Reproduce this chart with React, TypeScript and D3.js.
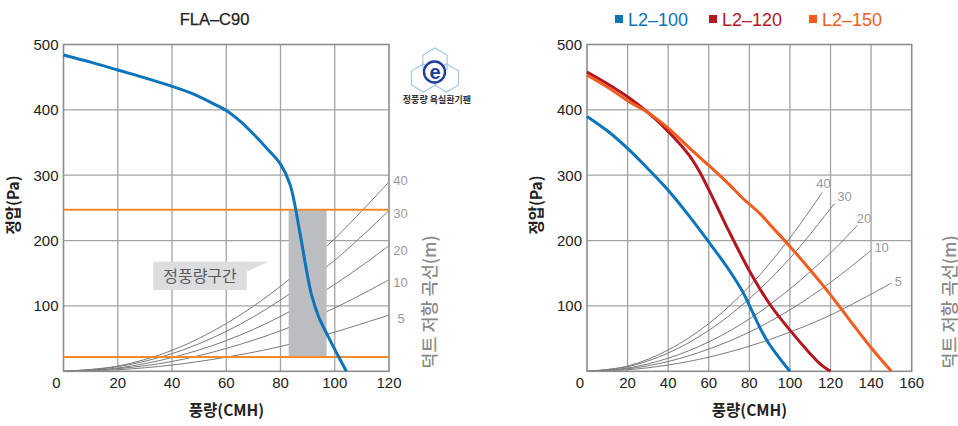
import React from 'react';
import * as d3 from 'd3';

const W = 958;
const H = 426;

// ---------- shared ----------
const yTicks = [100, 200, 300, 400, 500];
const ductNames = ['40', '30', '20', '10', '5'];

// ---------- left chart (FLA-C90) ----------
const leftTitle = 'FLA–C90';
const leftXTicks = [0, 20, 40, 60, 80, 100, 120];
const fanQ = [0, 10, 20, 30, 40, 48, 55, 60, 65, 70, 75, 80, 83.5, 87.2, 89.7, 91.5, 94, 97, 100.7, 104.3];
const fanP = [484, 473, 461, 449, 436, 424, 410, 399, 383, 363, 341, 317, 286, 211, 152, 116, 84, 58, 28, 0];
const bandQ = [83, 97];
const limitP = [247, 22];
const leftDuctQ = [0, 20, 40, 60, 80, 100, 120];
const leftDuct40 = [0, 8, 32, 73, 130, 203, 290];
const leftDuct30 = [0, 7, 27, 61, 109, 170, 246];
const leftDuct20 = [0, 5, 21, 47, 84, 133, 192];
const leftDuct10 = [0, 4, 15, 35, 62, 97, 140];
const leftDuct5 = [0, 2.4, 9.6, 21.6, 38, 60, 86];
const calloutText = '정풍량구간';
const logoText = '정풍량 욕실환기팬';

// ---------- right chart (L2 series) ----------
const rightXTicks = [0, 20, 40, 60, 80, 100, 120, 140, 160];
const seriesNames = ['L2–100', 'L2–120', 'L2–150'];
const l2100Q = [0, 10, 20, 30, 40, 50, 60, 70, 77, 80.3, 88.5, 100];
const l2100P = [390, 368, 341, 310, 277, 239, 198, 155, 120, 99, 48, 0];
const l2120Q = [0, 10, 20, 30, 40, 50, 55, 60, 65, 70, 80, 90, 100, 110, 115, 120];
const l2120P = [458, 440, 420, 396, 367, 332, 308, 278, 246, 214, 154, 103, 63, 27, 11, 0];
const l2150Q = [0, 10, 20, 30, 40, 50, 60, 70, 77, 85, 90, 100, 110, 120, 130, 140, 150];
const l2150P = [453, 435, 414, 396, 372, 343, 315, 286, 264, 242, 225, 191, 155, 117, 76, 36, 0];
const rightDuct40Q = [0, 20, 40, 60, 80, 100, 116];
const rightDuct40P = [0, 8, 32.6, 73, 130, 204, 274];
const rightDuct30Q = [0, 20, 40, 60, 80, 100, 122];
const rightDuct30P = [0, 7, 28, 62.5, 111, 173, 257];
const rightDuct20Q = [0, 20, 40, 60, 80, 100, 120, 133.5];
const rightDuct20P = [0, 5, 20, 45, 80, 126, 181, 224];
const rightDuct10Q = [0, 20, 40, 60, 80, 100, 120, 140];
const rightDuct10P = [0, 3.8, 15, 34, 60, 94, 136, 185];
const rightDuct5Q = [0, 20, 40, 60, 80, 100, 120, 140, 150];
const rightDuct5P = [0, 2.4, 9.6, 21.6, 38.4, 60, 86, 118, 135];

const xTitle = '풍량(CMH)';
const yTitle = '정압(Pa)';
const y2Title = '덕트 저항 곡선(m)';

// ---------- styles ----------
const LATIN = '"Liberation Sans", Arial, Helvetica, sans-serif';
const KR = '"Noto Sans CJK KR", "Noto Sans", sans-serif';
const GRID = '#a3a3a3';
const FRAME = '#8c8c8c';
const DUCT = '#7a7a7a';
const BLUE = '#0b74ba';
const RED = '#b3161e';
const ORANGE = '#f05d1e';
const LIMIT = '#ef8a2d';

const zip = (xs: number[], ys: number[]) => xs.map((x, i) => [x, ys[i]] as [number, number]);

type Plot = { x: d3.ScaleLinear<number, number>; y: d3.ScaleLinear<number, number> };

function Frame({ x, y, xTicks }: Plot & { xTicks: number[] }) {
  const [x0, x1] = x.range();
  const [y0, y1] = y.range();
  return (
    <g>
      {xTicks.slice(1, -1).map((t) => (
        <line key={'vx' + t} x1={x(t)} x2={x(t)} y1={y0} y2={y1} stroke={GRID} strokeWidth={1.3} />
      ))}
      {yTicks.slice(0, -1).map((t) => (
        <line key={'hy' + t} x1={x0} x2={x1} y1={y(t)} y2={y(t)} stroke={GRID} strokeWidth={1.3} />
      ))}
    </g>
  );
}

function Border({ x, y }: Plot) {
  const [x0, x1] = x.range();
  const [y0, y1] = y.range();
  return <rect x={x0} y={y1} width={x1 - x0} height={y0 - y1} fill="none" stroke={FRAME} strokeWidth={1.6} />;
}

function Axes({ x, y, xTicks, cx }: Plot & { xTicks: number[]; cx: number }) {
  const [x0] = x.range();
  const [y0] = y.range();
  return (
    <g fontFamily={LATIN} fill="#222">
      {yTicks.map((t) => (
        <text key={'yl' + t} x={x0 - 5} y={y(t)} dy="0.36em" textAnchor="end" fontSize={15}>
          {t}
        </text>
      ))}
      {xTicks.map((t) => (
        <text
          key={'xl' + t}
          x={t === 0 ? x(t) - 3 : x(t)}
          y={y0 + 17}
          textAnchor={t === 0 ? 'end' : 'middle'}
          fontSize={15}
        >
          {t}
        </text>
      ))}
      <text x={cx} y={416} textAnchor="middle" fontFamily={KR} fontWeight={700} fontSize={15.5}>
        {xTitle}
      </text>
    </g>
  );
}

function YTitle({ cx }: { cx: number }) {
  return (
    <text
      transform={`translate(${cx},205) rotate(-90)`}
      textAnchor="middle"
      dy="0.35em"
      fontFamily={KR}
      fontWeight={700}
      fontSize={15.5}
      fill="#222"
    >
      {yTitle}
    </text>
  );
}

function Y2Title({ cx }: { cx: number }) {
  return (
    <text
      transform={`translate(${cx},302) rotate(-90)`}
      textAnchor="middle"
      dy="0.35em"
      fontFamily={KR}
      fontWeight={500}
      fontSize={17.5}
      fill="#8a8a8a"
    >
      {y2Title}
    </text>
  );
}

function Logo() {
  const hex = (cx: number, cy: number, r: number) => {
    const pts = d3.range(6).map((i) => {
      const a = (Math.PI / 3) * i - Math.PI / 2;
      return [cx + r * Math.cos(a), cy + r * Math.sin(a)];
    });
    return 'M' + pts.map((p) => p.join(',')).join('L') + 'Z';
  };
  return (
    <g>
      <path d={hex(435, 62, 14)} fill="none" stroke="#9fc4e6" strokeWidth={1.1} />
      <path d={hex(423.5, 78, 14)} fill="none" stroke="#9fc4e6" strokeWidth={1.1} />
      <path d={hex(446.5, 78, 14)} fill="none" stroke="#9fc4e6" strokeWidth={1.1} />
      <circle cx={434.5} cy={72} r={10.5} fill="#fff" stroke="#1c3f99" strokeWidth={2.4} />
      <text x={435} y={72} dy="0.35em" textAnchor="middle" fontFamily={LATIN} fontWeight={700} fontSize={20} fill="#1c3f99">
        e
      </text>
      <text x={437} y={103} textAnchor="middle" fontFamily={KR} fontWeight={700} fontSize={9} fill="#333">
        {logoText}
      </text>
    </g>
  );
}

function LeftChart() {
  const x = d3.scaleLinear([0, 120], [63.5, 389]);
  const y = d3.scaleLinear([0, 500], [371.3, 44.5]);
  const line = d3
    .line<[number, number]>()
    .x((d) => x(d[0]))
    .y((d) => y(d[1]))
    .curve(d3.curveCatmullRom.alpha(0.5));
  const ducts = [leftDuct40, leftDuct30, leftDuct20, leftDuct10, leftDuct5];
  const labelOff = [
    [11.5, -1.5],
    [11.5, 3],
    [11.5, 5],
    [11.5, 3],
    [12, 3],
  ];
  const [x0, x1] = x.range();
  return (
    <g>
      <Frame x={x} y={y} xTicks={leftXTicks} />
      {ducts.map((d, i) => (
        <path key={'ld' + i} d={line(zip(leftDuctQ, d)) || ''} fill="none" stroke={DUCT} strokeWidth={1} />
      ))}
      <rect
        x={x(bandQ[0])}
        y={y(limitP[0])}
        width={x(bandQ[1]) - x(bandQ[0])}
        height={y(limitP[1]) - y(limitP[0])}
        fill="#bcbdc0"
      />
      <Border x={x} y={y} />
      {limitP.map((p) => (
        <line key={'lim' + p} x1={x0} x2={x1} y1={y(p)} y2={y(p)} stroke={LIMIT} strokeWidth={2} />
      ))}
      <path d={line(zip(fanQ, fanP)) || ''} fill="none" stroke={BLUE} strokeWidth={3} strokeLinejoin="round" />
      {ducts.map((d, i) => (
        <text
          key={'ll' + i}
          x={x(120) + labelOff[i][0]}
          y={y(d[d.length - 1]) + labelOff[i][1]}
          dy="0.35em"
          textAnchor="middle"
          fontFamily={LATIN}
          fontSize={13}
          fill="#9a9a9a"
        >
          {ductNames[i]}
        </text>
      ))}
      <g>
        <rect x={153.3} y={261.7} width={93.4} height={28.3} fill="#dcdddf" />
        <path d="M246.7,261.7L268.3,261.7L246.7,271.7Z" fill="#dcdddf" />
        <text x={200} y={276} dy="0.35em" textAnchor="middle" fontFamily={KR} fontSize={16} fill="#5a5a5a">
          {calloutText}
        </text>
      </g>
      <Axes x={x} y={y} xTicks={leftXTicks} cx={226.5} />
      <YTitle cx={13.5} />
      <Y2Title cx={430} />
      <text x={214.5} y={25} textAnchor="middle" fontFamily={LATIN} fontSize={16.5} fill="#222" stroke="#222" strokeWidth={0.25}>
        {leftTitle}
      </text>
      <Logo />
    </g>
  );
}

function RightChart() {
  const x = d3.scaleLinear([0, 160], [587, 911.7]);
  const y = d3.scaleLinear([0, 500], [371.3, 44.5]);
  const line = d3
    .line<[number, number]>()
    .x((d) => x(d[0]))
    .y((d) => y(d[1]))
    .curve(d3.curveCatmullRom.alpha(0.5));
  const ducts = [
    zip(rightDuct40Q, rightDuct40P),
    zip(rightDuct30Q, rightDuct30P),
    zip(rightDuct20Q, rightDuct20P),
    zip(rightDuct10Q, rightDuct10P),
    zip(rightDuct5Q, rightDuct5P),
  ];
  const labelOff = [
    [1, -9],
    [10, -6.5],
    [6, -6],
    [10.5, -2.5],
    [7, -2],
  ];
  const series = [zip(l2100Q, l2100P), zip(l2120Q, l2120P), zip(l2150Q, l2150P)];
  const colors = [BLUE, RED, ORANGE];
  const legendX = [615, 709, 809];
  return (
    <g>
      <Frame x={x} y={y} xTicks={rightXTicks} />
      {ducts.map((d, i) => (
        <path key={'rd' + i} d={line(d) || ''} fill="none" stroke={DUCT} strokeWidth={1} />
      ))}
      <Border x={x} y={y} />
      {series.map((s, i) => (
        <path key={'s' + i} d={line(s) || ''} fill="none" stroke={colors[i]} strokeWidth={3} strokeLinejoin="round" />
      ))}
      {ducts.map((d, i) => {
        const e = d[d.length - 1];
        return (
          <text
            key={'rl' + i}
            x={x(e[0]) + labelOff[i][0]}
            y={y(e[1]) + labelOff[i][1]}
            dy="0.35em"
            textAnchor="middle"
            fontFamily={LATIN}
            fontSize={13}
            fill="#9a9a9a"
          >
            {ductNames[i]}
          </text>
        );
      })}
      <Axes x={x} y={y} xTicks={rightXTicks} cx={749.5} />
      <YTitle cx={536.5} />
      <Y2Title cx={950} />
      {seriesNames.map((n, i) => (
        <g key={'lg' + i}>
          <rect x={legendX[i]} y={15} width={8} height={8} fill={colors[i]} />
          <text x={legendX[i] + 13} y={26} fontFamily={LATIN} fontSize={18} fill={colors[i]}>
            {n}
          </text>
        </g>
      ))}
    </g>
  );
}

export default function App() {
  return (
    <div style={{ position: 'fixed', left: 0, top: 0, width: W, height: H, background: '#fff' }}>
      <svg width={W} height={H} viewBox={`0 0 ${W} ${H}`} style={{ display: 'block' }}>
        <rect width={W} height={H} fill="#fff" />
        <LeftChart />
        <RightChart />
      </svg>
    </div>
  );
}
